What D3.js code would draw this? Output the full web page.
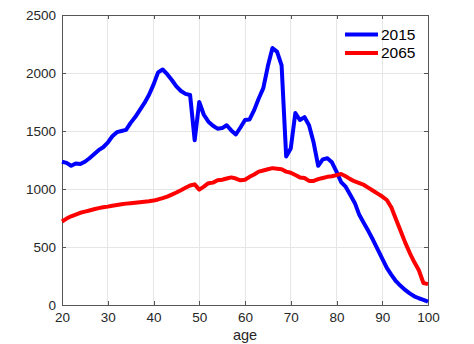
<!DOCTYPE html>
<html>
<head>
<meta charset="utf-8">
<script src="https://cdn.jsdelivr.net/npm/d3@7"></script>
<style>
  html, body { margin: 0; padding: 0; background: #fff; }
  svg { display: block; font-family: "Liberation Sans", Arial, Helvetica, sans-serif; }
</style>
</head>
<body>
<svg id="chart" width="474" height="344"></svg>
<script>
// Population by age (single years 20..100)
const ages = d3.range(20, 101);

const pop2015 = [
  1235, 1225, 1200, 1220, 1215, 1235, 1265, 1300, 1335, 1360,
  1400, 1455, 1490, 1500, 1510, 1570, 1620, 1680, 1740, 1810,
  1900, 2005, 2030, 1990, 1940, 1885, 1845, 1820, 1810, 1420,
  1750, 1640, 1580, 1545, 1520, 1525, 1550, 1505, 1470, 1530,
  1595, 1600, 1680, 1780, 1870, 2060, 2215, 2185, 2065, 1280,
  1350, 1655, 1595, 1620, 1550, 1400, 1200, 1255, 1265, 1230,
  1150, 1060, 1020, 950, 880, 775, 705, 635, 560, 480,
  400, 320, 260, 205, 165, 130, 100, 75, 58, 45,
  30
];

const pop2065 = [
  720, 745, 765, 780, 795, 805, 815, 825, 835, 842,
  848, 856, 862, 868, 874, 878, 882, 886, 890, 894,
  900, 910, 922, 935, 952, 970, 990, 1010, 1030, 1040,
  995, 1020, 1050, 1055, 1075, 1080, 1090, 1100, 1090, 1075,
  1080, 1105, 1125, 1150, 1160, 1170, 1180, 1175, 1170, 1150,
  1140, 1120, 1100, 1095, 1070, 1070, 1085, 1095, 1105, 1110,
  1120, 1130, 1110, 1085, 1065, 1050, 1035, 1010, 985, 960,
  935, 905, 840, 740, 640, 540, 450, 370, 300, 190,
  180
];

const seriesNames = ["2015", "2065"];
const seriesColors = ["#0000ff", "#ff0000"];
const xTicks = [20, 30, 40, 50, 60, 70, 80, 90, 100];
const yTicks = [0, 500, 1000, 1500, 2000, 2500];
const xLabel = "age";

const svg = d3.select("#chart");
const margin = { left: 62, top: 15, right: 474 - 428, bottom: 344 - 305 };
const W = 474 - margin.left - margin.right;
const H = 344 - margin.top - margin.bottom;

const x = d3.scaleLinear().domain([20, 100]).range([0, W]);
const y = d3.scaleLinear().domain([0, 2500]).range([H, 0]);

const g = svg.append("g").attr("transform", `translate(${margin.left},${margin.top})`);

// grid
g.append("g").selectAll("line.gx").data(xTicks.slice(1, -1)).join("line")
  .attr("x1", d => x(d)).attr("x2", d => x(d)).attr("y1", 0).attr("y2", H)
  .attr("stroke", "#e6e6e6").attr("stroke-width", 1).attr("shape-rendering", "crispEdges");
g.append("g").selectAll("line.gy").data(yTicks.slice(1, -1)).join("line")
  .attr("y1", d => y(d)).attr("y2", d => y(d)).attr("x1", 0).attr("x2", W)
  .attr("stroke", "#e6e6e6").attr("stroke-width", 1).attr("shape-rendering", "crispEdges");

// axes (ticks pointing inward)
const axisColor = "#555";
const textColor = "#262626";
const fmt = d3.format("d");
function styleAxis(sel, showText) {
  sel.select(".domain").attr("stroke", axisColor).attr("shape-rendering", "crispEdges");
  sel.selectAll(".tick line").attr("stroke", axisColor).attr("shape-rendering", "crispEdges");
  sel.selectAll(".tick text").attr("fill", textColor).style("font-size", "13.5px")
    .style("display", showText ? null : "none");
}

g.append("g").attr("transform", `translate(0,${H})`)
  .call(d3.axisBottom(x).tickValues(xTicks).tickFormat(fmt).tickSizeInner(-4).tickSizeOuter(0).tickPadding(7))
  .call(s => styleAxis(s, true));
g.append("g")
  .call(d3.axisTop(x).tickValues(xTicks).tickFormat(fmt).tickSizeInner(-4).tickSizeOuter(0))
  .call(s => styleAxis(s, false));
g.append("g")
  .call(d3.axisLeft(y).tickValues(yTicks).tickFormat(fmt).tickSizeInner(-4).tickSizeOuter(0).tickPadding(6))
  .call(s => styleAxis(s, true));
g.append("g").attr("transform", `translate(${W},0)`)
  .call(d3.axisRight(y).tickValues(yTicks).tickFormat(fmt).tickSizeInner(-4).tickSizeOuter(0))
  .call(s => styleAxis(s, false));

// x label
g.append("text").attr("x", W / 2).attr("y", H + 35)
  .attr("text-anchor", "middle").attr("fill", textColor)
  .style("font-size", "14.5px").text(xLabel);

// series lines
const line = d3.line().x((d, i) => x(ages[i])).y(d => y(d));
[pop2015, pop2065].forEach((vals, k) => {
  g.append("path").datum(vals)
    .attr("d", line)
    .attr("fill", "none")
    .attr("stroke", seriesColors[k])
    .attr("stroke-width", 4)
    .attr("stroke-linejoin", "round");
});

// legend
const lg = g.append("g").attr("transform", `translate(${345 - margin.left},${34.5 - margin.top})`);
seriesNames.forEach((name, k) => {
  const row = lg.append("g").attr("transform", `translate(0,${k * 18.5})`);
  row.append("line").attr("x1", 0).attr("x2", 33).attr("y1", 0).attr("y2", 0)
    .attr("stroke", seriesColors[k]).attr("stroke-width", 4);
  row.append("text").attr("x", 36).attr("y", 0).attr("dy", "0.35em")
    .attr("fill", "#000").style("font-size", "15.5px").text(name);
});
</script>
</body>
</html>
